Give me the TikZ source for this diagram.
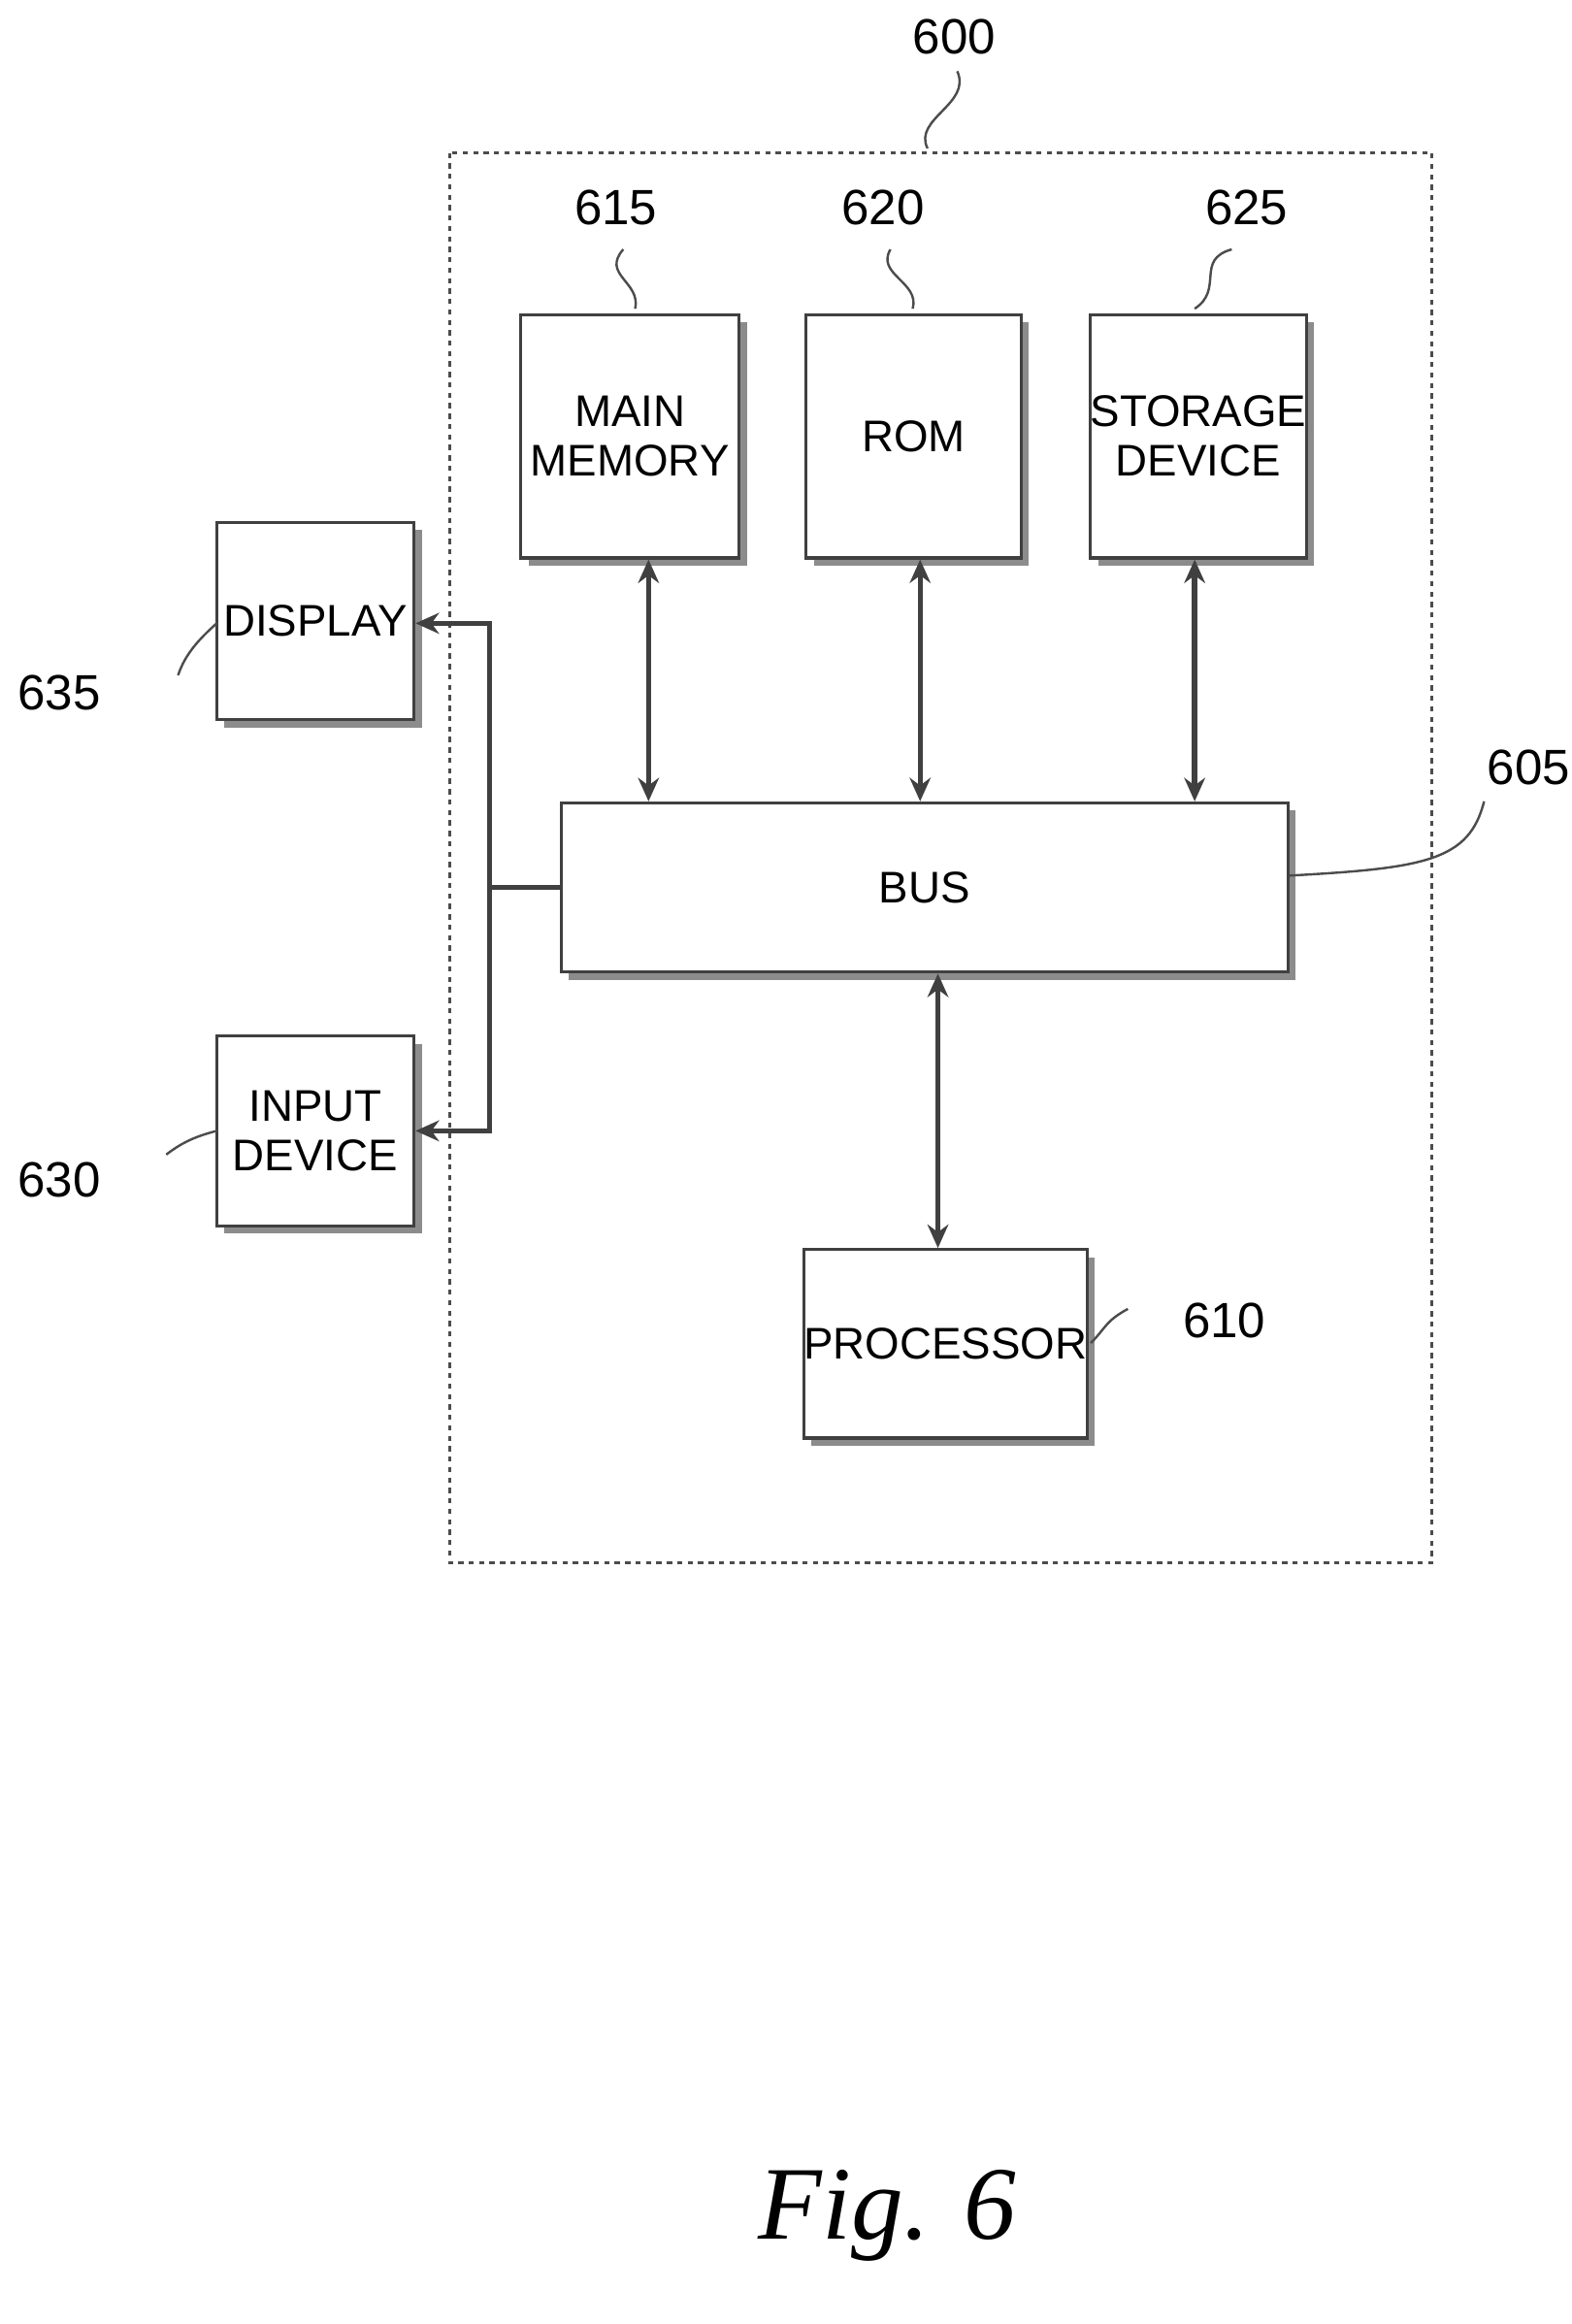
\documentclass[tikz,border=0pt]{standalone}
\usepackage{fontspec}
\setmainfont{Liberation Sans}
\newfontfamily\figfont{Liberation Serif}
\usetikzlibrary{arrows.meta, shadows}
\tikzset{
    blk/.style={draw=black!75, line width=1.2pt, fill=white, align=center,
        font=\fontsize{17}{19}\selectfont, inner sep=0pt,
        drop shadow={shadow xshift=3pt, shadow yshift=-3pt, fill=black!45, opacity=1}},
    link/.style={line width=2pt, black!75, {Stealth[length=9pt,width=8pt]}-{Stealth[length=9pt,width=8pt]}},
    tag/.style={font=\fontsize{19}{21}\selectfont},
    lead/.style={black!70, line width=0.9pt}
}
\begin{document}
\begin{tikzpicture}[x=0.02cm, y=-0.02cm]
    \useasboundingbox (0,0) rectangle (1059,1566);

    % outer system box
    \draw[black!70, line width=1.2pt, dash pattern=on 2pt off 2pt] (303,103) rectangle (965,1053);

    % blocks
    \node[blk, minimum width=2.94cm, minimum height=3.28cm] (mem) at (424.5,294) {MAIN\\MEMORY};
    \node[blk, minimum width=2.9cm, minimum height=3.28cm] (rom) at (615.5,294) {ROM};
    \node[blk, minimum width=2.9cm, minimum height=3.28cm] (sto) at (807.5,294) {STORAGE\\DEVICE};
    \node[blk, minimum width=9.8cm, minimum height=2.28cm] (bus) at (623,598) {BUS};
    \node[blk, minimum width=3.76cm, minimum height=2.54cm] (cpu) at (637,905.5) {PROCESSOR};
    \node[blk, minimum width=2.66cm, minimum height=2.66cm] (disp) at (212.5,418.5) {DISPLAY};
    \node[blk, minimum width=2.66cm, minimum height=2.56cm] (inp) at (212.5,762) {INPUT\\DEVICE};

    % connectors
    \draw[link] (mem.south -| 437,0) -- (bus.north -| 437,0);
    \draw[link] (rom.south -| 620,0) -- (bus.north -| 620,0);
    \draw[link] (sto.south -| 805,0) -- (bus.north -| 805,0);
    \draw[link] (bus.south -| 632,0) -- (cpu.north -| 632,0);
    \coordinate (jt) at (330,420);
    \coordinate (jm) at (330,598);
    \coordinate (jb) at (330,762);
    \draw[link] (disp.east |- jt) -- (jt) -- (jb) -- (inp.east |- jb);
    \draw[link, {-}] (jm) -- (bus.west);

    % reference numerals
    \node[tag] (n600) at (643,25) {600};
    \draw[lead] (625,100) .. controls (615,80) and (655,70) .. (645,48);
    \node[tag] (n615) at (415,140) {615};
    \draw[lead] (n615.south) ++(5,10) .. controls (405,185) and (432,190) .. (428,208);
    \node[tag] (n620) at (595,140) {620};
    \draw[lead] (n620.south) ++(5,10) .. controls (590,185) and (620,190) .. (615,208);
    \node[tag] (n625) at (840,140) {625};
    \draw[lead] (n625.south) ++(-10,10) .. controls (805,175) and (825,195) .. (805,208);
    \node[tag] (n605) at (1030,517) {605};
    \draw[lead] (bus.east) ++(0,-8) .. controls (960,585) and (990,580) .. (1000,540);
    \node[tag] (n610) at (825,890) {610};
    \draw[lead] (735,905) .. controls (745,895) and (745,890) .. (760,882);
    \node[tag] (n635) at (40,467) {635};
    \draw[lead] (120,455) .. controls (125,440) and (135,430) .. (146,420);
    \node[tag] (n630) at (40,795) {630};
    \draw[lead] (112,778) .. controls (125,768) and (135,765) .. (146,762);

    \node[font=\figfont\itshape\fontsize{40}{44}\selectfont] (fig) at (598,1493) {Fig. 6};
\end{tikzpicture}
\end{document}
